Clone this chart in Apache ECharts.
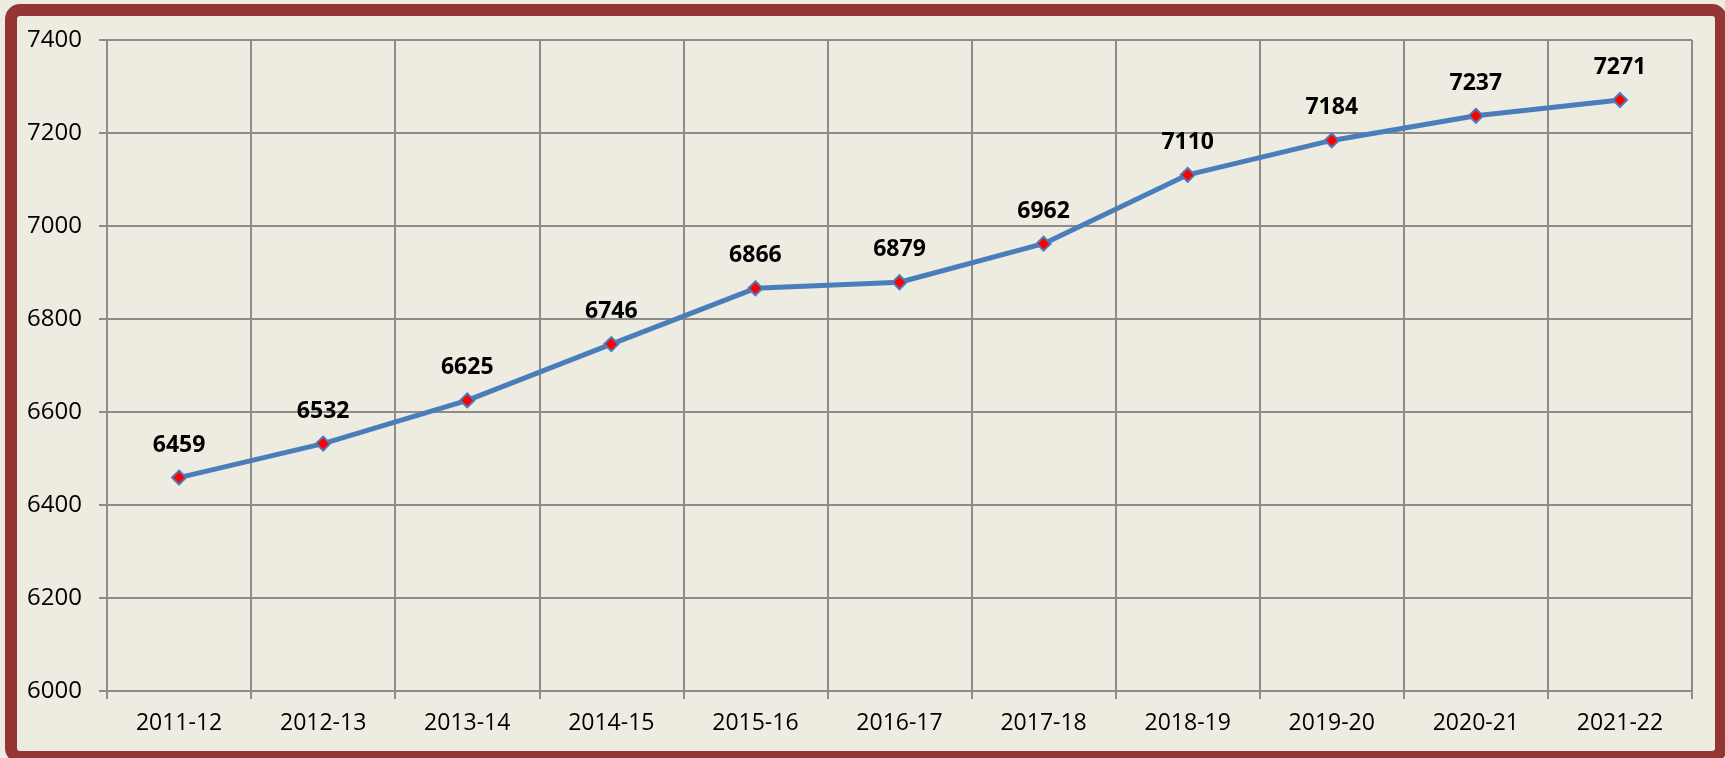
<!DOCTYPE html>
<html>
<head>
<meta charset="utf-8">
<title>Chart</title>
<script src="https://cdn.jsdelivr.net/npm/echarts@6/dist/echarts.min.js"></script>
<style>
  html, body { margin: 0; padding: 0; background: #EEEBE0; }
  #main { width: 1725px; height: 758px; }
</style>
</head>
<body>
<div id="main"></div>
<script>
// categories (financial years)
var years = ['2011-12', '2012-13', '2013-14', '2014-15', '2015-16', '2016-17',
             '2017-18', '2018-19', '2019-20', '2020-21', '2021-22'];
// values
var values = [6459, 6532, 6625, 6746, 6866, 6879, 6962, 7110, 7184, 7237, 7271];
// y axis range
var yMin = 6000;
var yMax = 7400;
var yStep = 200;

var chart = echarts.init(document.getElementById('main'), null, { renderer: 'canvas' });

var option = {
    backgroundColor: '#EEEBE0',
    animation: false,
    textStyle: { fontFamily: 'Open Sans, Liberation Sans, sans-serif' },
    graphic: [
        {
            type: 'rect',
            shape: { x: 11, y: 10, width: 1710, height: 747, r: 9 },
            style: { fill: 'none', stroke: '#943634', lineWidth: 12 },
            z: 100
        }
    ],
    grid: {
        left: 107,
        top: 40,
        right: 33,
        bottom: 67,
        show: false
    },
    xAxis: {
        type: 'category',
        data: years,
        boundaryGap: true,
        axisLine: { show: true, lineStyle: { color: '#8C8C8C', width: 2 } },
        axisTick: { show: true, length: 8, lineStyle: { color: '#8C8C8C', width: 2 } },
        splitLine: { show: true, lineStyle: { color: '#8C8C8C', width: 2 } },
        axisLabel: {
            color: '#000',
            fontSize: 23,
            margin: 21,
            fontFamily: 'Open Sans, sans-serif'
        }
    },
    yAxis: {
        type: 'value',
        min: yMin,
        max: yMax,
        interval: yStep,
        axisLine: { show: true, lineStyle: { color: '#8C8C8C', width: 2 } },
        axisTick: { show: true, length: 8, lineStyle: { color: '#8C8C8C', width: 2 } },
        splitLine: { show: true, lineStyle: { color: '#8C8C8C', width: 2 } },
        axisLabel: {
            color: '#000',
            fontSize: 24,
            margin: 25,
            fontFamily: 'Open Sans, sans-serif',
            formatter: function (v) { return String(v); }
        }
    },
    series: [
        {
            type: 'line',
            data: values,
            symbol: 'diamond',
            symbolSize: 14,
            lineStyle: { color: '#4A7EBB', width: 5 },
            itemStyle: { color: '#FF0000', borderColor: '#4A7EBB', borderWidth: 2 },
            label: {
                show: true,
                position: 'top',
                distance: 13,
                color: '#000',
                fontWeight: 'bold',
                fontSize: 23,
                fontFamily: 'Open Sans, sans-serif'
            },
            z: 10
        }
    ]
};

chart.setOption(option);
</script>
</body>
</html>
